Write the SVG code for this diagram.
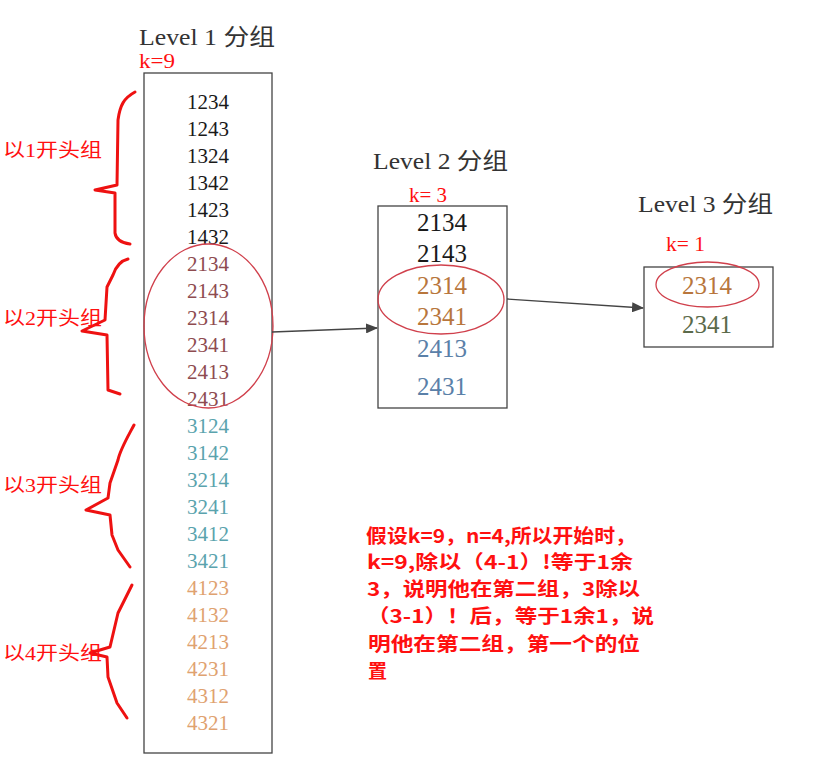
<svg xmlns="http://www.w3.org/2000/svg" width="815" height="774" viewBox="0 0 815 774">
<style>
.title{font-family:"Liberation Serif","Noto Sans CJK SC",serif;font-size:23px;fill:#333}
.k{font-family:"Liberation Serif","Noto Sans CJK SC",serif;font-size:21px;fill:#ff1010}
.box{fill:#fff;stroke:#444;stroke-width:1.3}
.n1{font-family:"Liberation Serif",serif;font-size:21px;text-anchor:middle}
.n2{font-family:"Liberation Serif",serif;font-size:25px;text-anchor:middle}
.g1{fill:#1a1a1a}.g2{fill:#8e4b50}.g3{fill:#5aa3ad}.g4{fill:#dfa270}
.or{fill:#b8763c}.bl{fill:#5a80a8}.ol{fill:#5b6a4a}
.ell{fill:none;stroke:#d0404c;stroke-width:1.3}
.brace{fill:none;stroke:#ee1111;stroke-width:3;stroke-linecap:round;stroke-linejoin:round}
.lab{font-family:"Liberation Serif","Noto Sans CJK SC",serif;font-size:19px;fill:#ff1010}
.note{font-family:"Noto Sans CJK SC",sans-serif;font-size:19px;fill:#ff1010;font-weight:bold}
.conn{stroke:#444;stroke-width:1.3;fill:none}
</style>
<defs>
<marker id="ah" markerWidth="12" markerHeight="10" refX="11" refY="5" orient="auto" markerUnits="userSpaceOnUse">
<path d="M0,0 L12,5 L0,10 Z" fill="#444"/>
</marker>
</defs>
<rect width="815" height="774" fill="#fff"/>

<g id="level1">
<text class="title" x="139" y="45" textLength="136" lengthAdjust="spacingAndGlyphs">Level 1 分组</text>
<text class="k" x="139" y="68" textLength="36" lengthAdjust="spacingAndGlyphs">k=9</text>
<rect class="box" x="144" y="73" width="128" height="680"/>
<text class="n1 g1" x="208" y="109">1234</text>
<text class="n1 g1" x="208" y="136">1243</text>
<text class="n1 g1" x="208" y="163">1324</text>
<text class="n1 g1" x="208" y="190">1342</text>
<text class="n1 g1" x="208" y="217">1423</text>
<text class="n1 g1" x="208" y="244">1432</text>
<text class="n1 g2" x="208" y="271">2134</text>
<text class="n1 g2" x="208" y="298">2143</text>
<text class="n1 g2" x="208" y="325">2314</text>
<text class="n1 g2" x="208" y="352">2341</text>
<text class="n1 g2" x="208" y="379">2413</text>
<text class="n1 g2" x="208" y="406">2431</text>
<text class="n1 g3" x="208" y="433">3124</text>
<text class="n1 g3" x="208" y="460">3142</text>
<text class="n1 g3" x="208" y="487">3214</text>
<text class="n1 g3" x="208" y="514">3241</text>
<text class="n1 g3" x="208" y="541">3412</text>
<text class="n1 g3" x="208" y="568">3421</text>
<text class="n1 g4" x="208" y="595">4123</text>
<text class="n1 g4" x="208" y="622">4132</text>
<text class="n1 g4" x="208" y="649">4213</text>
<text class="n1 g4" x="208" y="676">4231</text>
<text class="n1 g4" x="208" y="703">4312</text>
<text class="n1 g4" x="208" y="730">4321</text>
<ellipse class="ell" cx="208.5" cy="326" rx="64.5" ry="82"/>
</g>

<g id="level2">
<text class="title" x="373" y="169" textLength="135" lengthAdjust="spacingAndGlyphs">Level 2 分组</text>
<text class="k" x="409" y="202" textLength="38" lengthAdjust="spacingAndGlyphs">k= 3</text>
<rect class="box" x="378" y="206" width="129" height="202"/>
<text class="n2 g1" x="442" y="231">2134</text>
<text class="n2 g1" x="442" y="262">2143</text>
<text class="n2 or" x="442" y="294">2314</text>
<text class="n2 or" x="442" y="325">2341</text>
<text class="n2 bl" x="442" y="357">2413</text>
<text class="n2 bl" x="442" y="395">2431</text>
<ellipse class="ell" cx="441" cy="299.5" rx="63" ry="34.5"/>
</g>

<g id="level3">
<text class="title" x="638" y="212" textLength="135" lengthAdjust="spacingAndGlyphs">Level 3 分组</text>
<text class="k" x="666" y="251" textLength="39" lengthAdjust="spacingAndGlyphs">k= 1</text>
<rect class="box" x="644" y="267" width="129" height="80"/>
<text class="n2 or" x="707" y="294">2314</text>
<text class="n2 ol" x="707" y="333">2341</text>
<ellipse class="ell" cx="707.5" cy="284.5" rx="51.5" ry="22.5"/>
</g>

<g id="connectors">
<line class="conn" x1="272" y1="332" x2="377" y2="328" marker-end="url(#ah)"/>
<line class="conn" x1="507" y1="299" x2="643" y2="308" marker-end="url(#ah)"/>
</g>

<g id="braces">
<path class="brace" d="M135,92 C124,98 120,105 118,120 L117,185 L95,190 L115,193 L115,233 C116,240 122,243 130,244"/>
<path class="brace" d="M128,259 C120,261 116,266 113,275 L107,287 L105,320 L82,331 L107,335 L108,390 L120,394"/>
<path class="brace" d="M134,425 C126,440 120,450 118,460 L110,483 L108,498 L86,510 L110,515 L112,535 L118,550 L130,567"/>
<path class="brace" d="M132,585 L118,613 L110,647 L90,653 L107,657 L108,677 L117,703 L127,718"/>
</g>

<g id="labels">
<text class="lab" x="3" y="157" textLength="99" lengthAdjust="spacingAndGlyphs">以1开头组</text>
<text class="lab" x="3" y="325" textLength="99" lengthAdjust="spacingAndGlyphs">以2开头组</text>
<text class="lab" x="3" y="492" textLength="99" lengthAdjust="spacingAndGlyphs">以3开头组</text>
<text class="lab" x="3" y="660" textLength="99" lengthAdjust="spacingAndGlyphs">以4开头组</text>
</g>

<g id="note">
<text class="note" x="366" y="543" textLength="270" lengthAdjust="spacingAndGlyphs">假设k=9，n=4,所以开始时，</text>
<text class="note" x="367" y="569" textLength="266" lengthAdjust="spacingAndGlyphs">k=9,除以（4-1）!等于1余</text>
<text class="note" x="367" y="596" textLength="273" lengthAdjust="spacingAndGlyphs">3，说明他在第二组，3除以</text>
<text class="note" x="367" y="623" textLength="287" lengthAdjust="spacingAndGlyphs">（3-1）！后，等于1余1，说</text>
<text class="note" x="368" y="651" textLength="272" lengthAdjust="spacingAndGlyphs">明他在第二组，第一个的位</text>
<text class="note" x="368" y="678">置</text>
</g>
</svg>
